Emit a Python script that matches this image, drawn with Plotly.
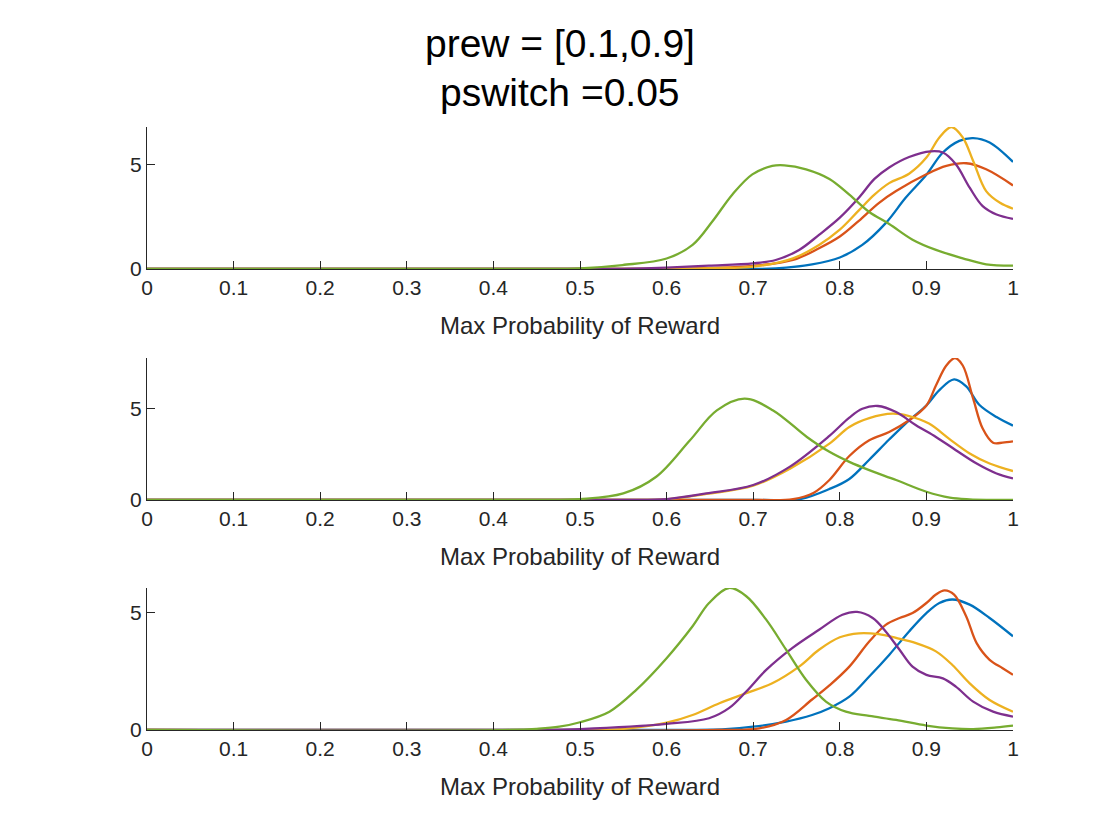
import plotly.graph_objects as go
from plotly.subplots import make_subplots

# colours (MATLAB default order)
blue = "#0072BD"
orange = "#D95319"
yellow = "#EDB120"
purple = "#7E2F8E"
green = "#77AC30"

xlabel = "Max Probability of Reward"
title_1 = "prew = [0.1,0.9]"
title_2 = "pswitch =0.05"

# ---- panel 1 ----
p1_blue_x = [0, 0.68, 0.726, 0.768, 0.8, 0.826, 0.853, 0.876, 0.9, 0.919, 0.938, 0.954, 0.973, 1.0]
p1_blue_y = [0, 0, 0.03, 0.22, 0.55, 1.15, 2.19, 3.4, 4.5, 5.56, 6.12, 6.25, 6.04, 5.11]
p1_orange_x = [0, 0.6, 0.65, 0.7, 0.746, 0.776, 0.8, 0.822, 0.845, 0.865, 0.9, 0.923, 0.946, 0.969, 1.0]
p1_orange_y = [0, 0, 0.05, 0.15, 0.43, 0.99, 1.55, 2.3, 3.15, 3.72, 4.52, 4.92, 5.05, 4.76, 3.99]
p1_yellow_x = [0, 0.6, 0.65, 0.7, 0.746, 0.776, 0.8, 0.822, 0.84, 0.857, 0.88, 0.9, 0.915, 0.929, 0.942, 0.954, 0.969, 0.985, 1.0]
p1_yellow_y = [0, 0, 0.04, 0.11, 0.51, 1.15, 1.88, 2.8, 3.55, 4.1, 4.55, 5.32, 6.28, 6.78, 6.28, 5.16, 3.72, 3.16, 2.88]
p1_purple_x = [0, 0.52, 0.56, 0.6, 0.649, 0.7, 0.726, 0.753, 0.776, 0.8, 0.823, 0.84, 0.857, 0.88, 0.905, 0.919, 0.934, 0.95, 0.965, 0.981, 1.0]
p1_purple_y = [0, 0, 0.02, 0.07, 0.16, 0.27, 0.43, 0.91, 1.63, 2.45, 3.45, 4.3, 4.85, 5.35, 5.62, 5.56, 5.0, 3.88, 3.0, 2.6, 2.39]
p1_green_x = [0, 0.45, 0.5, 0.549, 0.6, 0.63, 0.653, 0.676, 0.699, 0.722, 0.736, 0.761, 0.788, 0.811, 0.834, 0.857, 0.884, 0.911, 0.942, 0.969, 1.0]
p1_green_y = [0, 0, 0.03, 0.19, 0.5, 1.15, 2.28, 3.56, 4.52, 4.92, 4.95, 4.76, 4.3, 3.55, 2.72, 2.15, 1.4, 0.91, 0.51, 0.22, 0.16]

# ---- panel 2 ----
p2_blue_x = [0, 0.7, 0.754, 0.788, 0.811, 0.834, 0.857, 0.88, 0.9, 0.915, 0.932, 0.946, 0.961, 0.981, 1.0]
p2_blue_y = [0, 0, 0.05, 0.6, 1.15, 2.2, 3.3, 4.35, 5.16, 6.0, 6.58, 6.2, 5.2, 4.53, 4.06]
p2_orange_x = [0, 0.7, 0.746, 0.77, 0.788, 0.811, 0.834, 0.857, 0.88, 0.9, 0.911, 0.923, 0.933, 0.942, 0.954, 0.965, 0.977, 0.988, 1.0]
p2_orange_y = [0, 0, 0.05, 0.4, 1.09, 2.4, 3.26, 3.71, 4.35, 5.16, 6.25, 7.34, 7.75, 7.34, 5.53, 3.9, 3.13, 3.13, 3.2]
p2_yellow_x = [0, 0.55, 0.6, 0.646, 0.7, 0.742, 0.788, 0.811, 0.834, 0.861, 0.88, 0.903, 0.926, 0.95, 0.973, 1.0]
p2_yellow_y = [0, 0, 0.04, 0.33, 0.78, 1.7, 3.08, 3.99, 4.47, 4.71, 4.58, 4.17, 3.35, 2.54, 1.99, 1.58]
p2_purple_x = [0, 0.55, 0.6, 0.646, 0.7, 0.742, 0.788, 0.811, 0.826, 0.844, 0.865, 0.888, 0.911, 0.934, 0.958, 0.981, 1.0]
p2_purple_y = [0, 0, 0.05, 0.36, 0.82, 1.81, 3.5, 4.5, 4.98, 5.13, 4.8, 4.08, 3.44, 2.72, 1.99, 1.45, 1.18]
p2_green_x = [0, 0.45, 0.5, 0.55, 0.588, 0.627, 0.658, 0.69, 0.723, 0.762, 0.788, 0.811, 0.834, 0.865, 0.9, 0.927, 0.95, 1.0]
p2_green_y = [0, 0, 0.05, 0.36, 1.27, 3.26, 4.89, 5.53, 4.89, 3.44, 2.63, 2.08, 1.63, 1.09, 0.45, 0.13, 0.04, 0]

# ---- panel 3 ----
p3_blue_x = [0, 0.6, 0.668, 0.7, 0.738, 0.768, 0.788, 0.811, 0.834, 0.857, 0.88, 0.9, 0.915, 0.93, 0.95, 0.973, 1.0]
p3_blue_y = [0, 0, 0.04, 0.14, 0.36, 0.64, 0.93, 1.42, 2.28, 3.2, 4.2, 4.98, 5.41, 5.56, 5.34, 4.77, 3.99]
p3_orange_x = [0, 0.66, 0.707, 0.738, 0.768, 0.788, 0.811, 0.834, 0.853, 0.869, 0.884, 0.9, 0.911, 0.921, 0.932, 0.946, 0.958, 0.973, 0.988, 1.0]
p3_orange_y = [0, 0, 0.07, 0.43, 1.3, 1.9, 2.7, 3.77, 4.48, 4.77, 4.98, 5.41, 5.77, 5.95, 5.77, 4.84, 3.7, 2.99, 2.63, 2.35]
p3_yellow_x = [0, 0.5, 0.55, 0.6, 0.63, 0.661, 0.692, 0.722, 0.753, 0.776, 0.8, 0.822, 0.845, 0.865, 0.888, 0.911, 0.93, 0.95, 0.973, 1.0]
p3_yellow_y = [0, 0, 0.05, 0.31, 0.64, 1.14, 1.57, 1.99, 2.7, 3.42, 3.95, 4.12, 4.08, 3.92, 3.7, 3.35, 2.77, 1.99, 1.28, 0.78]
p3_purple_x = [0, 0.45, 0.5, 0.6, 0.649, 0.672, 0.692, 0.715, 0.745, 0.776, 0.803, 0.82, 0.838, 0.853, 0.869, 0.884, 0.9, 0.919, 0.934, 0.954, 0.977, 1.0]
p3_purple_y = [0, 0, 0.04, 0.26, 0.5, 0.93, 1.64, 2.56, 3.49, 4.27, 4.91, 5.03, 4.77, 4.2, 3.42, 2.7, 2.35, 2.2, 1.85, 1.21, 0.78, 0.57]
p3_green_x = [0, 0.42, 0.45, 0.476, 0.5, 0.534, 0.565, 0.6, 0.63, 0.649, 0.672, 0.692, 0.715, 0.738, 0.761, 0.784, 0.807, 0.834, 0.865, 0.9, 0.93, 0.954, 0.981, 1.0]
p3_green_y = [0, 0, 0.05, 0.14, 0.33, 0.78, 1.71, 3.06, 4.42, 5.41, 6.05, 5.7, 4.7, 3.42, 2.14, 1.21, 0.78, 0.6, 0.43, 0.19, 0.07, 0.04, 0.11, 0.19]

panels = [
    [(p1_blue_x, p1_blue_y, blue), (p1_orange_x, p1_orange_y, orange), (p1_yellow_x, p1_yellow_y, yellow),
     (p1_purple_x, p1_purple_y, purple), (p1_green_x, p1_green_y, green)],
    [(p2_blue_x, p2_blue_y, blue), (p2_orange_x, p2_orange_y, orange), (p2_yellow_x, p2_yellow_y, yellow),
     (p2_purple_x, p2_purple_y, purple), (p2_green_x, p2_green_y, green)],
    [(p3_blue_x, p3_blue_y, blue), (p3_orange_x, p3_orange_y, orange), (p3_yellow_x, p3_yellow_y, yellow),
     (p3_purple_x, p3_purple_y, purple), (p3_green_x, p3_green_y, green)],
]

font = "Liberation Sans, Arial, Helvetica, sans-serif"
axcol = "#262626"

fig = make_subplots(rows=3, cols=1)

for row, lines in enumerate(panels, start=1):
    for xs, ys, col in lines:
        fig.add_trace(go.Scatter(x=xs, y=ys, mode="lines", line=dict(color=col, width=2.3, shape="spline", smoothing=1.0),
                                 showlegend=False, hoverinfo="skip"), row=row, col=1)
    ymax = max(max(ys) for xs, ys, col in lines)
    fig.update_yaxes(range=[0, ymax], tickvals=[0, 5], row=row, col=1)

fig.update_xaxes(range=[0, 1], dtick=0.1, tick0=0, showgrid=False, zeroline=False, showline=True, linecolor=axcol,
                 linewidth=1, ticks="inside", ticklen=8, tickcolor=axcol, tickfont=dict(size=21, color=axcol, family=font),
                 title=dict(text=xlabel, font=dict(size=24, color=axcol, family=font), standoff=18))
fig.update_yaxes(showgrid=False, zeroline=False, showline=True, linecolor=axcol, linewidth=1, ticks="inside",
                 ticklen=8, tickcolor=axcol, tickfont=dict(size=21, color=axcol, family=font))

# three equal axes boxes, like MATLAB subplot
fig.update_layout(
    yaxis=dict(domain=[0.7645, 1.0]),
    yaxis2=dict(domain=[0.3814, 0.6169]),
    yaxis3=dict(domain=[0.0, 0.2355]),
)

fig.add_annotation(text=title_1, xref="paper", yref="paper", x=0.4769, y=1.139, showarrow=False,
                   font=dict(size=39, color="black", family=font), xanchor="center", yanchor="middle")
fig.add_annotation(text=title_2, xref="paper", yref="paper", x=0.4769, y=1.057, showarrow=False,
                   font=dict(size=39, color="black", family=font), xanchor="center", yanchor="middle")

# page body has an 8px margin, so the figure is a bit smaller than the window
fig.update_layout(width=1112, height=832, margin=dict(l=139, r=107, t=119, b=110),
                  plot_bgcolor="white", paper_bgcolor="white", font=dict(family=font))

fig.write_html("out.html")
